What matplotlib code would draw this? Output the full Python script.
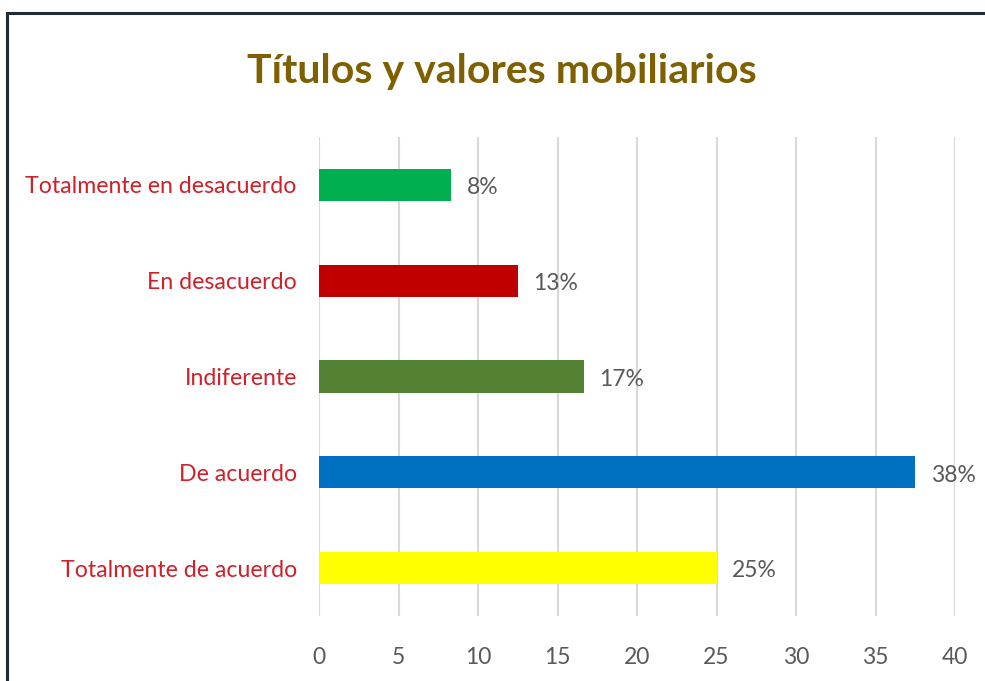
import matplotlib
matplotlib.use("Agg")
import matplotlib.pyplot as plt
from matplotlib.lines import Line2D

categories = ["Totalmente en desacuerdo", "En desacuerdo", "Indiferente",
              "De acuerdo", "Totalmente de acuerdo"]
values = [8.33, 12.5, 16.67, 37.5, 25.0]
value_labels = ["8%", "13%", "17%", "38%", "25%"]
bar_colors = ["#00b050", "#c00000", "#548235", "#0070c0", "#ffff00"]
xticks = [0, 5, 10, 15, 20, 25, 30, 35, 40]

plt.rcParams["font.family"] = ["Lato", "DejaVu Sans"]

fig = plt.figure(figsize=(9.85, 6.81), dpi=100)
ax = fig.add_axes([0.3239, 0.0954, 0.6457, 0.7034])

y = range(len(categories))
ax.barh(y, values, height=0.335, color=bar_colors, zorder=3)
for i, (v, lab) in enumerate(zip(values, value_labels)):
    ax.annotate(lab, (v, i), xytext=(11, -2), textcoords="offset points",
                va="center", ha="left", fontsize=16.5, color="#595959")

ax.set_xlim(0, 40)
ax.set_ylim(-0.5, len(categories) - 0.5)
ax.invert_yaxis()
ax.set_yticks(list(y))
ax.set_yticklabels(categories, fontsize=16.7, color="#d0202a")
ax.set_xticks(xticks)
ax.set_xticklabels([str(t) for t in xticks], fontsize=16.5, color="#595959")
ax.tick_params(axis="y", length=0, pad=16)
ax.tick_params(axis="x", length=0, pad=22)
ax.grid(axis="x", color="#d9d9d9", linewidth=1.5, zorder=0)
for s in ax.spines.values():
    s.set_visible(False)

fig.text(0.51, 0.895, "Títulos y valores mobiliarios", ha="center", va="center",
         fontsize=29.5, fontweight="bold", color="#7f6000")

# frame of the screenshot
fig.add_artist(Line2D([0.0071, 0.0071], [0, 0.981], color="#222b35", linewidth=2.2))
fig.add_artist(Line2D([0.0071, 1.0], [0.981, 0.981], color="#222b35", linewidth=2.2))

fig.savefig("out.png", dpi=100)
